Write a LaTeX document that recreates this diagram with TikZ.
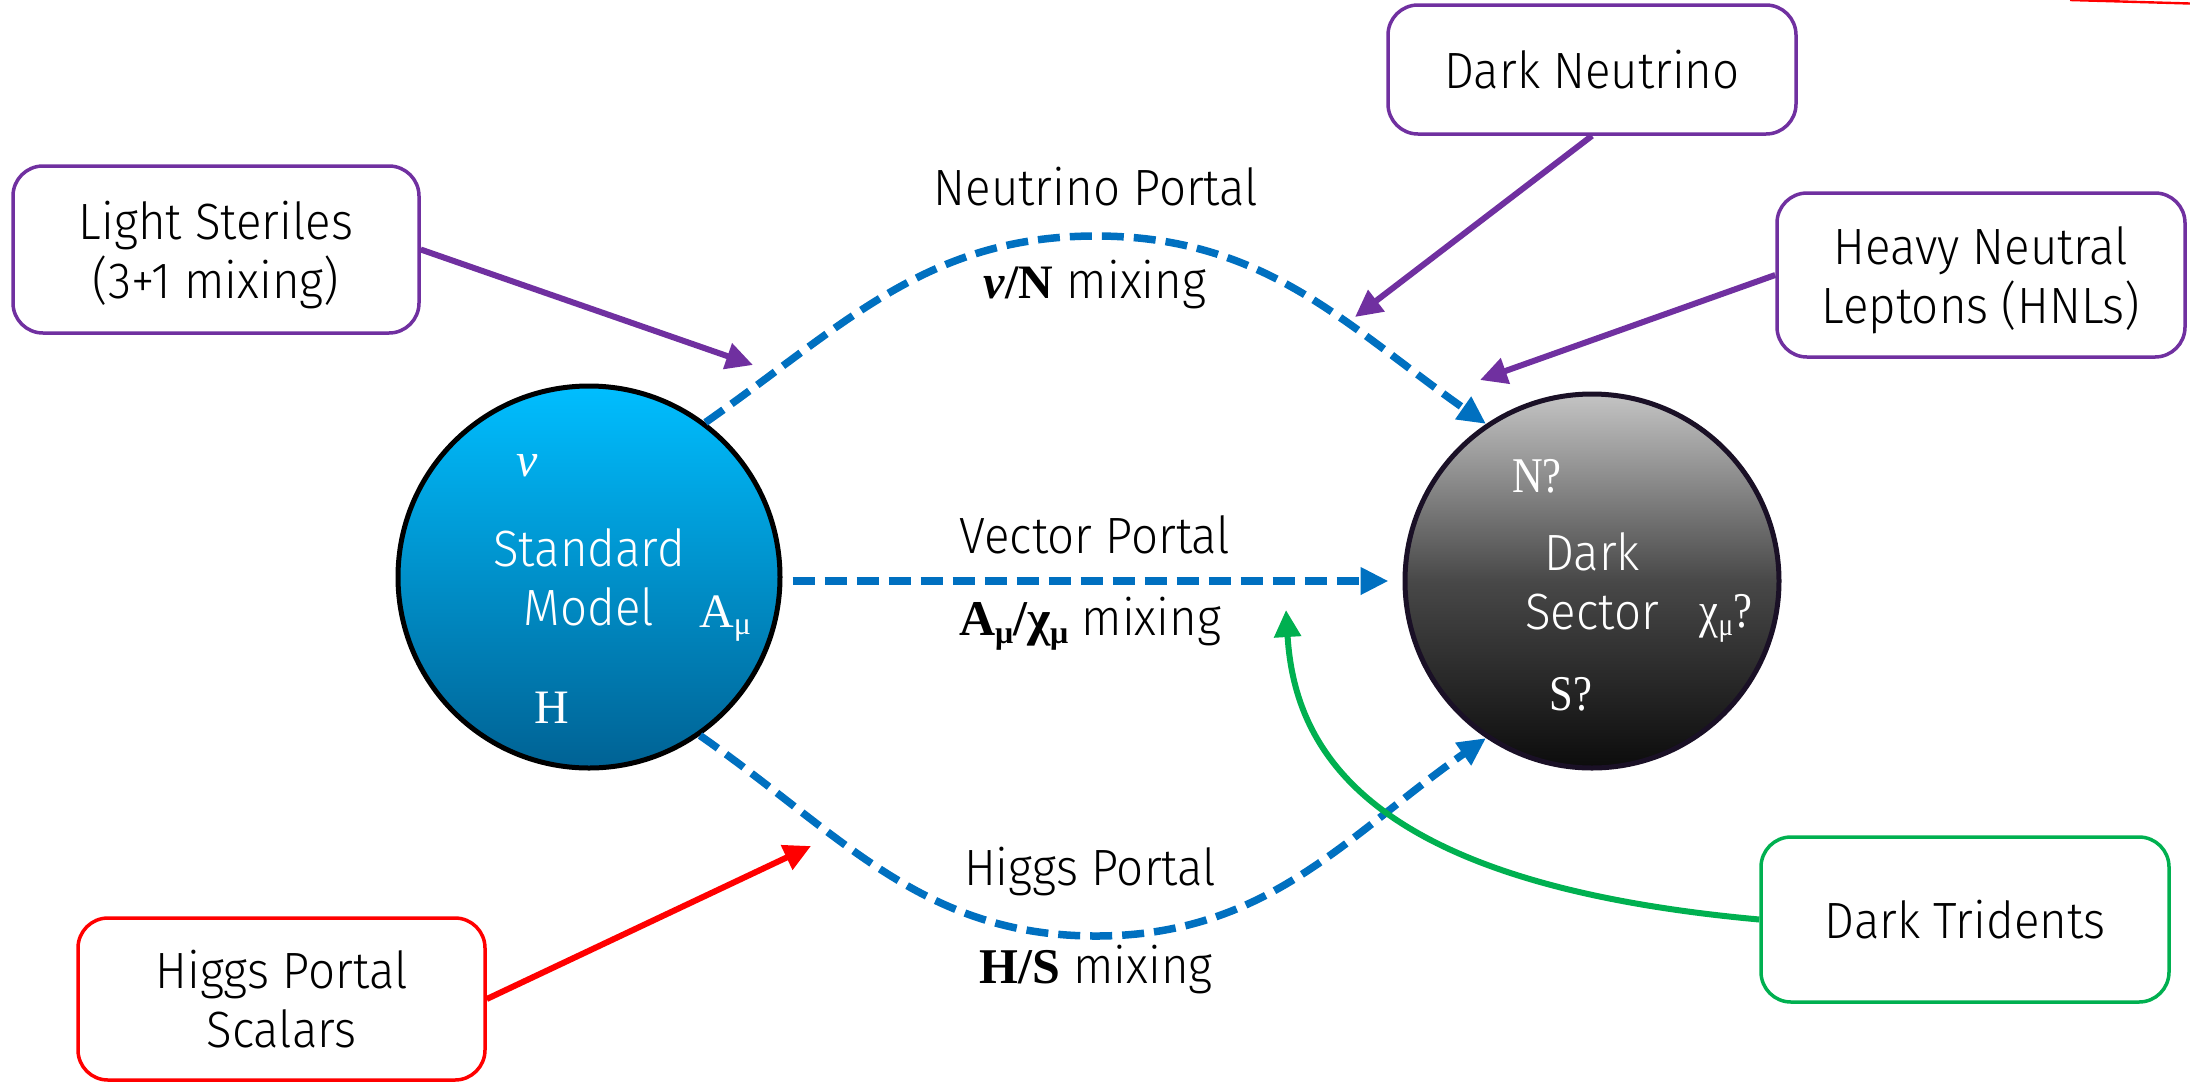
\documentclass[tikz,border=0pt]{standalone}
\usepackage{fontspec}
\setmainfont{Fira Sans Light}[FakeStretch=0.93]
\newfontfamily\serifsym{Liberation Serif}
\newfontfamily\condsym{Liberation Serif}[FakeStretch=0.85]
\usetikzlibrary{arrows.meta}
\definecolor{pblue}{HTML}{0070C0}
\definecolor{ppurple}{HTML}{7030A0}
\definecolor{pgreen}{HTML}{00B050}
\definecolor{pred}{HTML}{FF0000}
\definecolor{smtop}{RGB}{0,190,255}
\definecolor{smbot}{RGB}{0,98,148}
\definecolor{dstop}{RGB}{196,196,196}
\definecolor{dsmid}{RGB}{72,72,72}
\definecolor{dsbot}{RGB}{12,12,12}
\definecolor{dsedge}{RGB}{26,16,38}
\newcommand\lowsub[1]{\raisebox{-0.35ex}{\fontsize{16}{16}\selectfont #1}}
\begin{document}
\begin{tikzpicture}[x=0.5pt,y=0.5pt,
  txt/.style={font=\fontsize{25.5}{29.5}\selectfont, inner sep=0pt},
  infobox/.style={draw=#1, line width=1.75pt, rounded corners=15pt, fill=white,
    align=center, txt, text depth=0pt},
  lbl/.style={txt, anchor=base},
  sym/.style={font=\serifsym\fontsize{24}{24}\selectfont, text=white, inner sep=0pt, anchor=base},
  csym/.style={font=\condsym\fontsize{25}{25}\selectfont, text=white, inner sep=0pt, anchor=base},
  portal/.style={pblue, line width=3.75pt, dash pattern=on 11pt off 5pt,
    -{Triangle[length=14pt,width=13pt]}},
  pointer/.style={draw=#1, line width=3pt, -{Triangle[length=13.5pt,width=13pt]}},
]
\useasboundingbox (0,0) rectangle (2190,-1083);

% sectors
\node[circle, minimum size=191pt, line width=2.5pt, draw=black,
  top color=smtop, bottom color=smbot, text=white, align=center, txt, text depth=0pt]
  (sm) at (589,-577) {Standard\\Model};
\node[circle, minimum size=187pt, line width=2.5pt, draw=dsedge,
  top color=dstop, bottom color=dsbot, middle color=dsmid, text=white, align=center, txt, text depth=0pt]
  (ds) at (1592,-581) {Dark\\Sector};

% particle symbols
\node[sym] (nu) at (527,-476) {\textit{ν}};
\node[sym] (amu) at (725,-627) {A\lowsub{μ}};
\node[sym] (hh) at (552,-723) {H};
\node[csym] (nq) at (1537,-492) {N?};
\node[csym] (chiq) at (1726,-627) {χ\lowsub{μ}?};
\node[csym] (sq) at (1571,-710) {S?};

% portals
\coordinate (ntop) at (1096,-236);
\coordinate (hbot) at (1096,-936);
\draw[portal] (sm.53) to[out=35,in=180] (ntop) to[out=0,in=145] (ds.124);
\draw[portal, shorten <=5pt, shorten >=7pt] (sm.east |- ds.west) -- (ds.west);
\draw[portal] (sm.-55) to[out=-35,in=180] (hbot) to[out=0,in=-145] (ds.-124);

% portal labels
\node[lbl] (npl) at (1096,-205) {Neutrino Portal};
\node[lbl] (nmx) at (1095,-298) {{\serifsym\fontsize{24}{24}\selectfont\bfseries\textit{ν}/N} mixing};
\node[lbl] (vpl) at (1095,-553) {Vector Portal};
\node[lbl] (vmx) at (1090,-635) {{\serifsym\fontsize{25}{25}\selectfont\bfseries A\lowsub{μ}/χ\lowsub{μ}} mixing};
\node[lbl] (hpl) at (1090,-885) {Higgs Portal};
\node[lbl] (hmx) at (1096,-983) {{\serifsym\fontsize{25}{25}\selectfont\bfseries H/S} mixing};

% info boxes
\node[infobox=ppurple, minimum width=203pt, minimum height=83.5pt] (ls) at (216,-249.5) {Light Steriles\\(3+1 mixing)};
\node[infobox=ppurple, minimum width=204pt, minimum height=64.5pt] (dn) at (1592,-69.5) {Dark Neutrino};
\node[infobox=ppurple, minimum width=204pt, minimum height=82pt] (hnl) at (1981,-275) {Heavy Neutral\\Leptons (HNLs)};
\node[infobox=pred, minimum width=203.5pt, minimum height=81pt] (hps) at (281.5,-999) {Higgs Portal\\Scalars};
\node[infobox=pgreen, minimum width=204pt, minimum height=82.5pt] (dt) at (1965,-919.5) {Dark Tridents};

% pointer ends
\coordinate (lstip) at (753,-365);
\coordinate (dntip) at (1355,-317);
\coordinate (hnltip) at (1480,-380);
\coordinate (hpstip) at (811,-846);
\coordinate (dttip) at (1286,-610);

\draw[pointer=ppurple] (ls.east) -- (lstip);
\draw[pointer=ppurple] (dn.south) -- (dntip);
\draw[pointer=ppurple] (hnl.west) -- (hnltip);
\draw[pointer=pred] (hps.east) -- (hpstip);
\draw[pointer=pgreen] (dt.west) .. controls (1380,-885) and (1295,-760) .. (dttip);

% red sliver at the top edge
\draw[pred, line width=1.2pt] (2070,0) -- (2190,-3.5);
\end{tikzpicture}
\end{document}
